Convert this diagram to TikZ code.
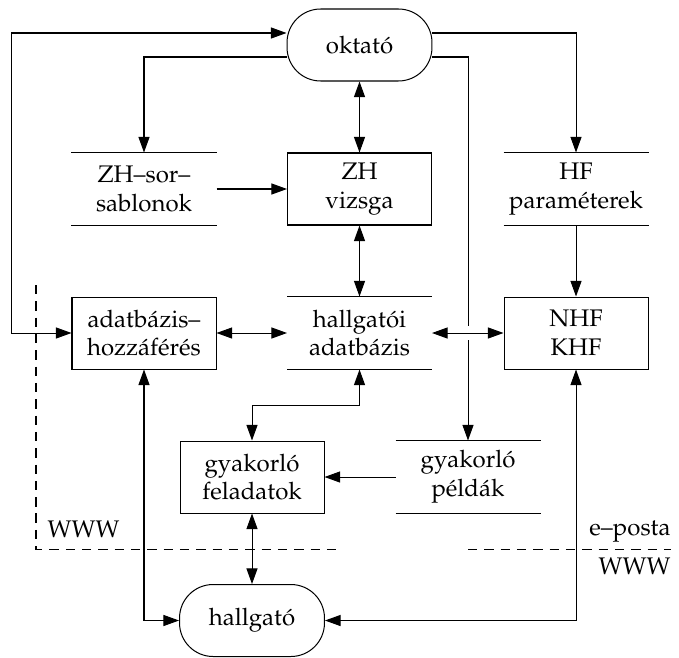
\documentclass[tikz,border=0pt]{standalone}
\usepackage[T1]{fontenc}
\usepackage{mathpazo}
\usetikzlibrary{arrows.meta,calc}
\begin{document}
\begin{tikzpicture}[x=0.416667pt,y=-0.416667pt, line width=0.42pt,
  arr/.style={-{Triangle[length=6.5pt,width=4.6pt]}},
  dbl/.style={{Triangle[length=6.5pt,width=4.6pt]}-{Triangle[length=6.5pt,width=4.6pt]}},
  box/.style={draw, rectangle, minimum width=60pt, minimum height=30pt, inner sep=0pt, align=center},
  store/.style={rectangle, minimum width=60pt, minimum height=30pt, inner sep=0pt, align=center},
  actor/.style={draw, rectangle, rounded corners=14pt, minimum width=60.4pt, minimum height=30pt, inner sep=0pt, align=center},
  lbl/.style={inner sep=0pt},
  bnd/.style={dash pattern=on 3.9pt off 2.9pt}]
\useasboundingbox (0,0) rectangle (679,657);

\node[actor] (okt) at (359.5,45) {oktat\'o};
\node[store] (zhs) at (144,189) {ZH\textendash sor\textendash\\sablonok};
\node[box] (zh) at (359.5,189) {ZH\\vizsga};
\node[store] (hf) at (576,189) {HF\\param\'eterek};
\node[box] (adh) at (144,333) {adatb\'azis\textendash\\hozz\'af\'er\'es};
\node[store] (had) at (359.5,333) {hallgat\'oi\\adatb\'azis};
\node[box] (nhf) at (576,333) {NHF\\KHF};
\node[box] (gyf) at (252,477) {gyakorl\'o\\feladatok};
\node[store] (gyp) at (468,477) {gyakorl\'o\\p\'eld\'ak};
\node[actor] (hal) at (252,620.5) {hallgat\'o};

\foreach \n in {zhs,hf,had,gyp}
  \draw (\n.north west) -- (\n.north east) (\n.south west) -- (\n.south east);

\coordinate (lx) at (11.7,333);

\draw[dbl] ($(okt.west)+(0,-12)$) -| (lx) -- (adh.west);
\draw[arr] ($(okt.west)+(0,12)$) -| (zhs.north);
\draw[dbl] (okt.south) -- (zh.north);
\draw[arr] ($(okt.east)+(0,-12)$) -| (hf.north);
\draw[arr] ($(okt.east)+(0,12)$) -| (gyp.north);
\draw[arr] (zhs.east) -- (zh.west);
\draw[dbl] (zh.south) -- (had.north);
\draw[arr] (hf.south) -- (nhf.north);
\draw[dbl] (adh.east) -- (had.west);
\fill[white] ($(gyp.north |- had.east)+(-3,-7)$) rectangle ($(gyp.north |- had.east)+(3,7)$);
\draw[dbl] (had.east) -- (nhf.west);
\draw[dbl] (had.south) -- ++(0,36) -| (gyf.north);
\draw[arr] (gyp.west) -- (gyf.east);
\draw[dbl] (gyf.south) -- (hal.north);
\draw[dbl] (adh.south) |- (hal.west);
\draw[dbl] (hal.east) -| (nhf.south);

\coordinate (d1) at (36,285);
\coordinate (d2) at (36,549);
\coordinate (d3) at (340,549);
\coordinate (d4) at (468,549);
\coordinate (d5) at (671,549);
\draw[bnd] (d1) -- (d2) -- (d3);
\draw[bnd] (d4) -- (d5);
\node[lbl, anchor=base west] (www1) at (47,537) {WWW};
\node[lbl, anchor=base east] (epo) at (671,535) {e\textendash posta};
\node[lbl, anchor=base east] (www2) at (671,574) {WWW};
\end{tikzpicture}
\end{document}
